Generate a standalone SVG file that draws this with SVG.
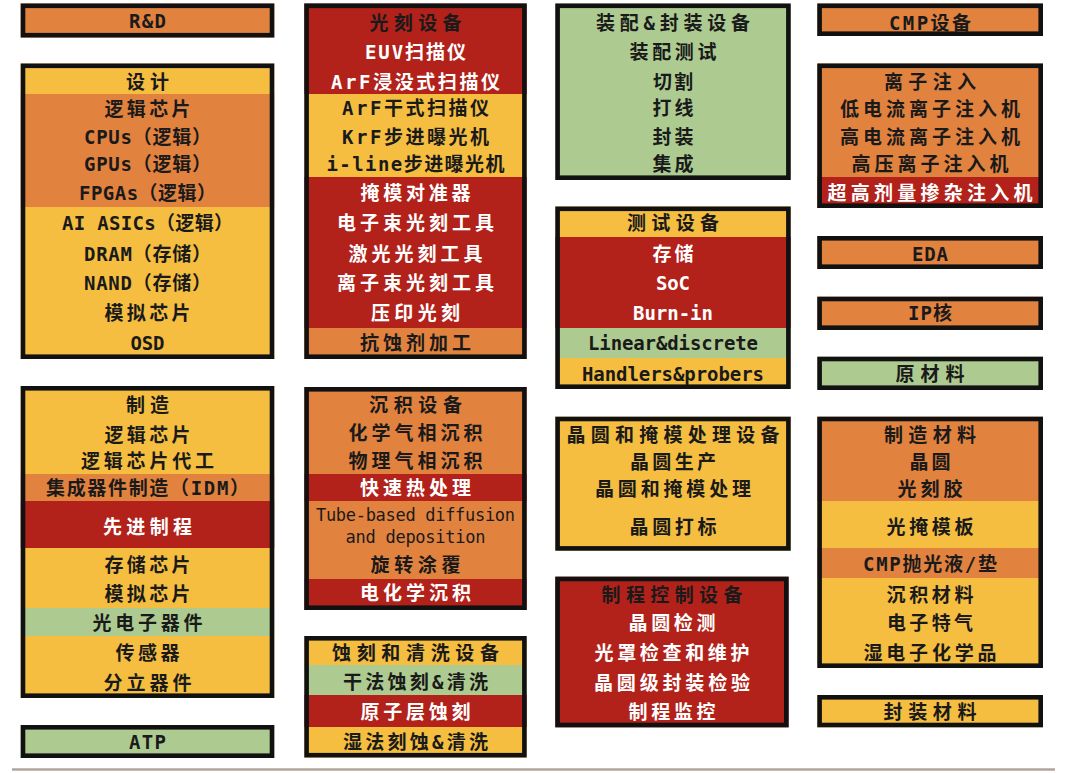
<svg xmlns="http://www.w3.org/2000/svg" width="1080" height="773" viewBox="0 0 1080 773">
<style>
.o{fill:#E2823F}.y{fill:#F5BE41}.r{fill:#B2221B}.g{fill:#ADCB91}
.f{fill:none;stroke:#111;stroke-width:4.6}
text{font-family:"DejaVu Sans Mono","Noto Sans CJK SC",monospace;font-size:19px;font-weight:bold;text-anchor:middle}
.d{fill:#1a1a1a}.w{fill:#fff}
.s{font-size:17px;font-weight:500}
</style>
<rect width="1080" height="773" fill="#fff"/>
<g id="connectors"></g>

<!-- Column 1 -->
<g id="rd">
<rect class="o" x="20.7" y="3.5" width="253.6" height="34"/>
<rect class="f" x="23" y="5.8" width="249" height="29.4"/>
<text class="d" x="147.5" y="28" textLength="37" lengthAdjust="spacing">R&amp;D</text>
</g>
<g id="design">
<rect class="y" x="20.7" y="63.5" width="253.6" height="30.5"/>
<rect class="o" x="20.7" y="94" width="253.6" height="113"/>
<rect class="y" x="20.7" y="207" width="253.6" height="152"/>
<rect class="f" x="23" y="65.8" width="249" height="290.9"/>
<text class="d" x="147.5" y="89" textLength="43">设计</text>
<text class="d" x="147.5" y="116" textLength="86">逻辑芯片</text>
<text class="d" x="147.5" y="144" textLength="127">CPUs（逻辑）</text>
<text class="d" x="147.5" y="171" textLength="127">GPUs（逻辑）</text>
<text class="d" x="147.5" y="200" textLength="137">FPGAs（逻辑）</text>
<text class="d" x="147.5" y="230" textLength="171">AI ASICs（逻辑）</text>
<text class="d" x="147.5" y="261" textLength="127">DRAM（存储）</text>
<text class="d" x="147.5" y="290" textLength="127">NAND（存储）</text>
<text class="d" x="147.5" y="320" textLength="86">模拟芯片</text>
<text class="d" x="147.5" y="350" textLength="34">OSD</text>
</g>
<g id="manufacturing">
<rect class="y" x="20.7" y="386" width="253.6" height="88"/>
<rect class="o" x="20.7" y="474" width="253.6" height="27"/>
<rect class="r" x="20.7" y="501" width="253.6" height="47"/>
<rect class="y" x="20.7" y="548" width="253.6" height="60"/>
<rect class="g" x="20.7" y="608" width="253.6" height="28"/>
<rect class="y" x="20.7" y="636" width="253.6" height="62"/>
<rect class="f" x="23" y="388.3" width="249" height="307.4"/>
<text class="d" x="147.5" y="412" textLength="43">制造</text>
<text class="d" x="147.5" y="442" textLength="86">逻辑芯片</text>
<text class="d" x="147.5" y="468" textLength="133">逻辑芯片代工</text>
<text class="d" x="147.5" y="495" textLength="203">集成器件制造（IDM）</text>
<text class="w" x="147.5" y="534" textLength="89">先进制程</text>
<text class="d" x="147.5" y="572" textLength="86">存储芯片</text>
<text class="d" x="147.5" y="601" textLength="86">模拟芯片</text>
<text class="d" x="147.5" y="630" textLength="110">光电子器件</text>
<text class="d" x="147.5" y="660" textLength="64">传感器</text>
<text class="d" x="147.5" y="690" textLength="88">分立器件</text>
</g>
<g id="atp">
<rect class="g" x="20.7" y="725" width="253.6" height="33"/>
<rect class="f" x="23" y="727.3" width="249" height="28.4"/>
<text class="d" x="147.5" y="749" textLength="37">ATP</text>
</g>

<!-- Column 2 -->
<g id="litho">
<rect class="r" x="304.3" y="3.5" width="222.4" height="90.5"/>
<rect class="y" x="304.3" y="94" width="222.4" height="83"/>
<rect class="r" x="304.3" y="177" width="222.4" height="151"/>
<rect class="o" x="304.3" y="328" width="222.4" height="31"/>
<rect class="f" x="306.6" y="5.8" width="217.8" height="350.9"/>
<text class="d" x="415.5" y="30" textLength="92">光刻设备</text>
<text class="w" x="415.5" y="59" textLength="101">EUV扫描仪</text>
<text class="w" x="415.5" y="89" textLength="169">ArF浸没式扫描仪</text>
<text class="d" x="415.5" y="115" textLength="147">ArF干式扫描仪</text>
<text class="d" x="415.5" y="144" textLength="147">KrF步进曝光机</text>
<text class="d" x="415.5" y="171" textLength="178">i-line步进曝光机</text>
<text class="w" x="415.5" y="200" textLength="110">掩模对准器</text>
<text class="w" x="415.5" y="230" textLength="157">电子束光刻工具</text>
<text class="w" x="415.5" y="261" textLength="134">激光光刻工具</text>
<text class="w" x="415.5" y="290" textLength="157">离子束光刻工具</text>
<text class="w" x="415.5" y="320" textLength="89">压印光刻</text>
<text class="d" x="415.5" y="350" textLength="111">抗蚀剂加工</text>
</g>
<g id="deposition">
<rect class="o" x="304.3" y="387" width="222.4" height="87"/>
<rect class="r" x="304.3" y="474" width="222.4" height="27"/>
<rect class="o" x="304.3" y="501" width="222.4" height="78"/>
<rect class="r" x="304.3" y="579" width="222.4" height="31"/>
<rect class="f" x="306.6" y="389.3" width="217.8" height="218.4"/>
<text class="d" x="415.5" y="412" textLength="93">沉积设备</text>
<text class="d" x="415.5" y="440" textLength="134">化学气相沉积</text>
<text class="d" x="415.5" y="468" textLength="134">物理气相沉积</text>
<text class="w" x="415.5" y="495" textLength="111">快速热处理</text>
<text class="d s" x="415.5" y="521" textLength="199">Tube-based diffusion</text>
<text class="d s" x="415.5" y="543" textLength="140">and deposition</text>
<text class="d" x="415.5" y="572" textLength="90">旋转涂覆</text>
<text class="w" x="415.5" y="600" textLength="111">电化学沉积</text>
</g>
<g id="etch">
<rect class="y" x="304.3" y="636" width="222.4" height="29"/>
<rect class="g" x="304.3" y="665" width="222.4" height="30"/>
<rect class="r" x="304.3" y="695" width="222.4" height="32"/>
<rect class="y" x="304.3" y="727" width="222.4" height="30.5"/>
<rect class="f" x="306.6" y="638.3" width="217.8" height="116.9"/>
<text class="d" x="415.5" y="660" textLength="167">蚀刻和清洗设备</text>
<text class="d" x="415.5" y="689" textLength="145">干法蚀刻&amp;清洗</text>
<text class="w" x="415.5" y="719" textLength="110">原子层蚀刻</text>
<text class="d" x="415.5" y="749" textLength="145">湿法刻蚀&amp;清洗</text>
</g>

<!-- Column 3 -->
<g id="assembly">
<rect class="g" x="555.3" y="3.5" width="235.4" height="176.5"/>
<rect class="f" x="557.6" y="5.8" width="230.8" height="171.9"/>
<text class="d" x="673" y="30" textLength="154">装配&amp;封装设备</text>
<text class="d" x="673" y="59" textLength="87">装配测试</text>
<text class="d" x="673" y="89" textLength="40">切割</text>
<text class="d" x="673" y="115" textLength="41">打线</text>
<text class="d" x="673" y="144" textLength="41">封装</text>
<text class="d" x="673" y="171" textLength="41">集成</text>
</g>
<g id="test">
<rect class="y" x="555.3" y="206.5" width="235.4" height="30.5"/>
<rect class="r" x="555.3" y="237" width="235.4" height="91"/>
<rect class="g" x="555.3" y="328" width="235.4" height="30"/>
<rect class="y" x="555.3" y="358" width="235.4" height="31"/>
<rect class="f" x="557.6" y="208.8" width="230.8" height="177.9"/>
<text class="d" x="673" y="230" textLength="92">测试设备</text>
<text class="w" x="673" y="261" textLength="41">存储</text>
<text class="w" x="673" y="290" textLength="34">SoC</text>
<text class="w" x="673" y="320" textLength="80">Burn-in</text>
<text class="d" x="673" y="350" textLength="170">Linear&amp;discrete</text>
<text class="d" x="673" y="381" textLength="182">Handlers&amp;probers</text>
</g>
<g id="wafer">
<rect class="y" x="555.3" y="416.7" width="235.4" height="134"/>
<rect class="f" x="557.6" y="419" width="230.8" height="129.4"/>
<text class="d" x="673" y="442" textLength="213">晶圆和掩模处理设备</text>
<text class="d" x="673" y="469" textLength="86">晶圆生产</text>
<text class="d" x="673" y="496" textLength="156">晶圆和掩模处理</text>
<text class="d" x="673" y="534" textLength="87">晶圆打标</text>
</g>
<g id="process">
<rect class="r" x="555.3" y="576.7" width="233.3" height="150.6"/>
<rect class="f" x="557.6" y="579" width="228.7" height="146"/>
<text class="d" x="672" y="602" textLength="141">制程控制设备</text>
<text class="w" x="672" y="630" textLength="87">晶圆检测</text>
<text class="w" x="672" y="660" textLength="155">光罩检查和维护</text>
<text class="w" x="672" y="690" textLength="156">晶圆级封装检验</text>
<text class="w" x="672" y="719" textLength="87">制程监控</text>
</g>

<!-- Column 4 -->
<g id="cmp">
<rect class="o" x="817.3" y="3.5" width="225.7" height="32.5"/>
<rect class="f" x="819.6" y="5.8" width="221.1" height="27.9"/>
<text class="d" x="930" y="30" textLength="82">CMP设备</text>
</g>
<g id="ion">
<rect class="o" x="817.3" y="63.5" width="225.7" height="113.5"/>
<rect class="r" x="817.3" y="177" width="225.7" height="31"/>
<rect class="f" x="819.6" y="65.8" width="221.1" height="139.9"/>
<text class="d" x="930" y="89" textLength="92">离子注入</text>
<text class="d" x="930" y="116" textLength="180">低电流离子注入机</text>
<text class="d" x="930" y="144" textLength="180">高电流离子注入机</text>
<text class="d" x="930" y="171" textLength="157">高压离子注入机</text>
<text class="w" x="930" y="200" textLength="205">超高剂量掺杂注入机</text>
</g>
<g id="eda">
<rect class="o" x="817.3" y="236" width="225.7" height="33"/>
<rect class="f" x="819.6" y="238.3" width="221.1" height="28.4"/>
<text class="d" x="930" y="261" textLength="36">EDA</text>
</g>
<g id="ip">
<rect class="o" x="817.3" y="296.7" width="225.7" height="33.3"/>
<rect class="f" x="819.6" y="299" width="221.1" height="28.7"/>
<text class="d" x="930" y="320" textLength="44">IP核</text>
</g>
<g id="raw">
<rect class="g" x="817.3" y="356.7" width="225.7" height="33.3"/>
<rect class="f" x="819.6" y="359" width="221.1" height="28.7"/>
<text class="d" x="930" y="381" textLength="69">原材料</text>
</g>
<g id="fabmat">
<rect class="o" x="817.3" y="416.7" width="225.7" height="84.3"/>
<rect class="y" x="817.3" y="501" width="225.7" height="47"/>
<rect class="o" x="817.3" y="548" width="225.7" height="30"/>
<rect class="y" x="817.3" y="578" width="225.7" height="90"/>
<rect class="f" x="819.6" y="419" width="221.1" height="246.7"/>
<text class="d" x="930" y="442" textLength="92">制造材料</text>
<text class="d" x="930" y="469" textLength="41">晶圆</text>
<text class="d" x="930" y="496" textLength="65">光刻胶</text>
<text class="d" x="930" y="534" textLength="87">光掩模板</text>
<text class="d" x="930" y="571" textLength="134">CMP抛光液/垫</text>
<text class="d" x="930" y="602" textLength="87">沉积材料</text>
<text class="d" x="930" y="630" textLength="86">电子特气</text>
<text class="d" x="930" y="660" textLength="133">湿电子化学品</text>
</g>
<g id="pkgmat">
<rect class="y" x="817.3" y="695" width="225.7" height="32.3"/>
<rect class="f" x="819.6" y="697.3" width="221.1" height="27.7"/>
<text class="d" x="930" y="719" textLength="93">封装材料</text>
</g>

<line x1="12" y1="769.5" x2="1055" y2="769.5" stroke="#B0A49C" stroke-width="2.5"/>
</svg>
